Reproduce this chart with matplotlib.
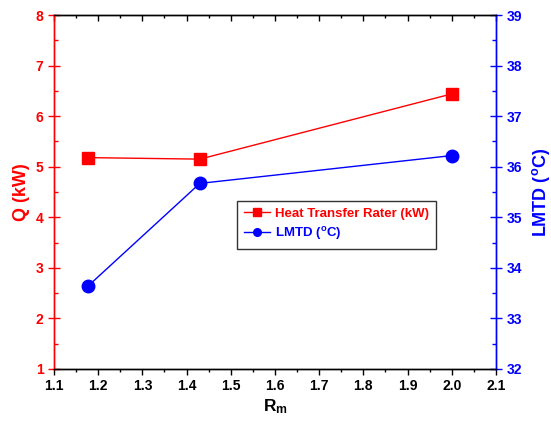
import matplotlib
matplotlib.use("Agg")
import matplotlib.pyplot as plt
from matplotlib.ticker import MultipleLocator

plt.rcParams['font.family'] = ['Liberation Sans', 'DejaVu Sans']
plt.rcParams['font.weight'] = 'bold'
plt.rcParams['mathtext.fontset'] = 'custom'
plt.rcParams['mathtext.rm'] = 'Liberation Sans:bold'
plt.rcParams['mathtext.it'] = 'Liberation Sans:bold'
plt.rcParams['mathtext.bf'] = 'Liberation Sans:bold'

rm = [1.177, 1.43, 2.0]
q_kw = [5.18, 5.15, 6.44]
lmtd = [33.64, 35.67, 36.22]

RED = '#FF0000'
BLUE = '#0000FF'

fig = plt.figure(figsize=(5.51, 4.23), dpi=100)
ax = fig.add_axes([0.098, 0.1277, 0.802, 0.8368])
ax2 = ax.twinx()

l1, = ax.plot(rm, q_kw, color=RED, marker='s', markersize=8, lw=1.0,
              label='Heat Transfer Rater (kW)')
l2, = ax2.plot(rm, lmtd, color=BLUE, marker='o', markersize=9, lw=1.0,
               label='LMTD ($^{\\mathregular{o}}$C)')

ax.set_xlim(1.1, 2.1)
ax.set_ylim(1, 8)
ax2.set_ylim(32, 39)

ax.xaxis.set_major_locator(MultipleLocator(0.1))
ax.xaxis.set_minor_locator(MultipleLocator(0.05))
ax.yaxis.set_major_locator(MultipleLocator(1))
ax.yaxis.set_minor_locator(MultipleLocator(0.5))
ax2.yaxis.set_major_locator(MultipleLocator(1))
ax2.yaxis.set_minor_locator(MultipleLocator(0.5))
ax.xaxis.set_major_formatter(plt.FuncFormatter(lambda v, p: f'{v:.1f}'))

fs = 10
ax.tick_params(axis='x', which='major', direction='out', length=4, width=1,
               labelsize=fs, top=False, pad=3)
ax.tick_params(axis='x', which='minor', direction='out', length=2.5, width=1, top=False)

top = ax.secondary_xaxis('top')
top.xaxis.set_major_locator(MultipleLocator(0.1))
top.xaxis.set_minor_locator(MultipleLocator(0.05))
top.tick_params(axis='x', which='major', direction='in', length=4, width=1,
                labeltop=False)
top.tick_params(axis='x', which='minor', direction='in', length=2.5, width=1)
top.spines['top'].set_visible(False)

ax.tick_params(axis='y', which='major', direction='inout', length=8, width=1,
               labelsize=fs, colors=RED, labelcolor=RED)
ax.tick_params(axis='y', which='minor', direction='in', length=3, width=1, colors=RED)
ax2.tick_params(axis='y', which='major', direction='inout', length=8, width=1,
                labelsize=fs, colors=BLUE, labelcolor=BLUE)
ax2.tick_params(axis='y', which='minor', direction='in', length=3, width=1, colors=BLUE)

for a in (ax, ax2):
    a.spines['left'].set_color(RED)
    a.spines['right'].set_color(BLUE)
    a.spines['top'].set_color('black')
    a.spines['bottom'].set_color('black')
    for s in a.spines.values():
        s.set_linewidth(1.0)

ax.set_xlabel('R$_{\\mathregular{m}}$', fontsize=12.5, fontweight='bold', labelpad=3)
ax.set_ylabel('Q (kW)', fontsize=13, fontweight='bold', color=RED, labelpad=4)
ax2.set_ylabel('LMTD ($^{\\mathregular{o}}$C)', fontsize=13, fontweight='bold',
               color=BLUE, labelpad=6)

leg = ax.legend(handles=[l1, l2], loc='upper left', bbox_to_anchor=(0.414, 0.475),
                fontsize=9.5, frameon=True, fancybox=False, shadow=False,
                edgecolor='black', handlelength=2.0, borderpad=0.5,
                labelspacing=0.4, handletextpad=0.4, borderaxespad=0)
leg.get_frame().set_linewidth(1.0)
leg.texts[0].set_color(RED)
leg.texts[1].set_color(BLUE)
for h in leg.legend_handles:
    h.set_markersize(5.5)
leg.remove()
ax2.add_artist(leg)

fig.savefig('out.png', dpi=100)
